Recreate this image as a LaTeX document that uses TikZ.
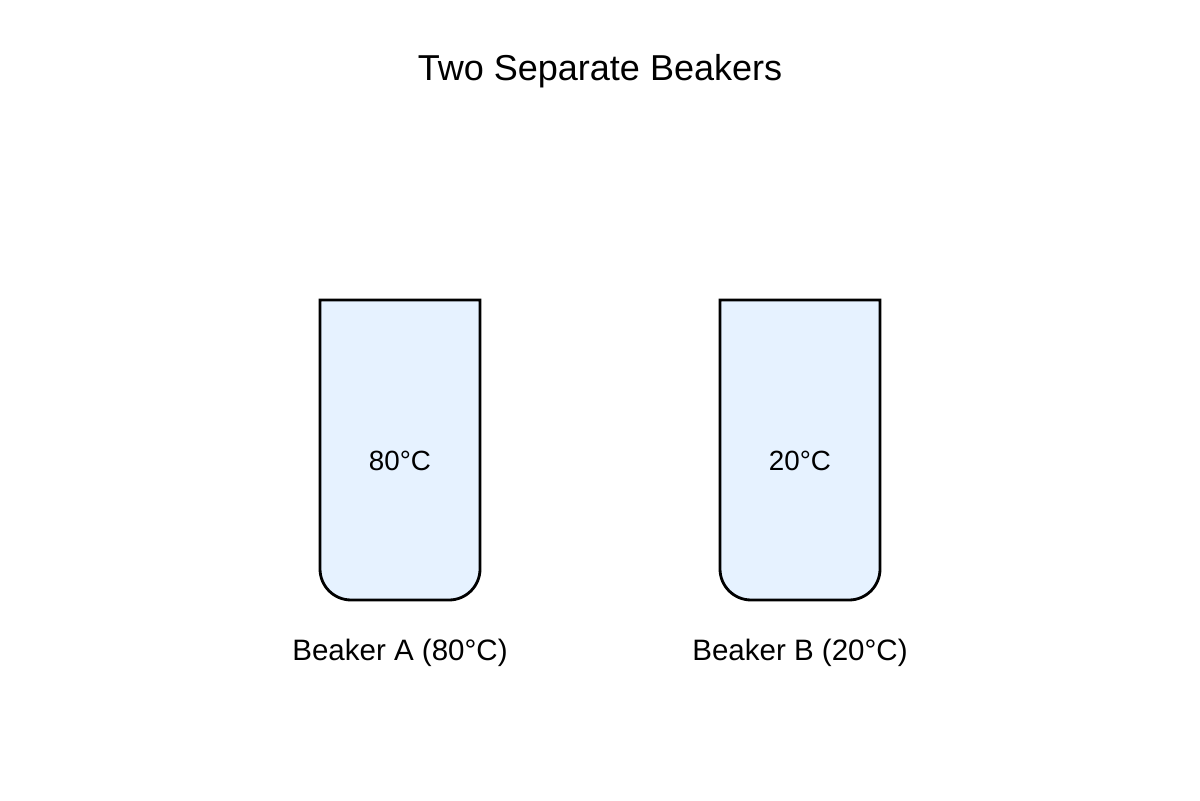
\documentclass[tikz,border=0pt]{standalone}
\usepackage{fontspec}
\setmainfont{Liberation Sans}
\usepackage{xcolor}
\definecolor{waterblue}{HTML}{E6F2FF}
\usetikzlibrary{positioning}

\begin{document}
\begin{tikzpicture}
    \useasboundingbox (0,0) rectangle (24,16);
    \tikzset{beaker/.style={draw=black, fill=waterblue, line width=1.6pt},
      temp/.style={font=\fontsize{15.8}{18}\selectfont},
      caption/.style={font=\fontsize{16.8}{20}\selectfont}}
    \node[font=\fontsize{20.5}{24}\selectfont] (title) at (12,14.58) {Two Separate Beakers};
    % beakers: x centre / name / temperature
    \foreach \x/\n/\t in {8/A/80, 16/B/20}{
      \draw[beaker] (\x-1.6,10) -- (\x-1.6,4.62) arc (180:270:0.62)
        -- (\x+0.98,4) arc (270:360:0.62) -- (\x+1.6,10) -- cycle;
      \node[temp] (temp\n) at (\x,6.78) {\t°C};
      \node[caption] (label\n) at (\x,2.94) {Beaker \n\ (\t°C)};
    }
\end{tikzpicture}
\end{document}
